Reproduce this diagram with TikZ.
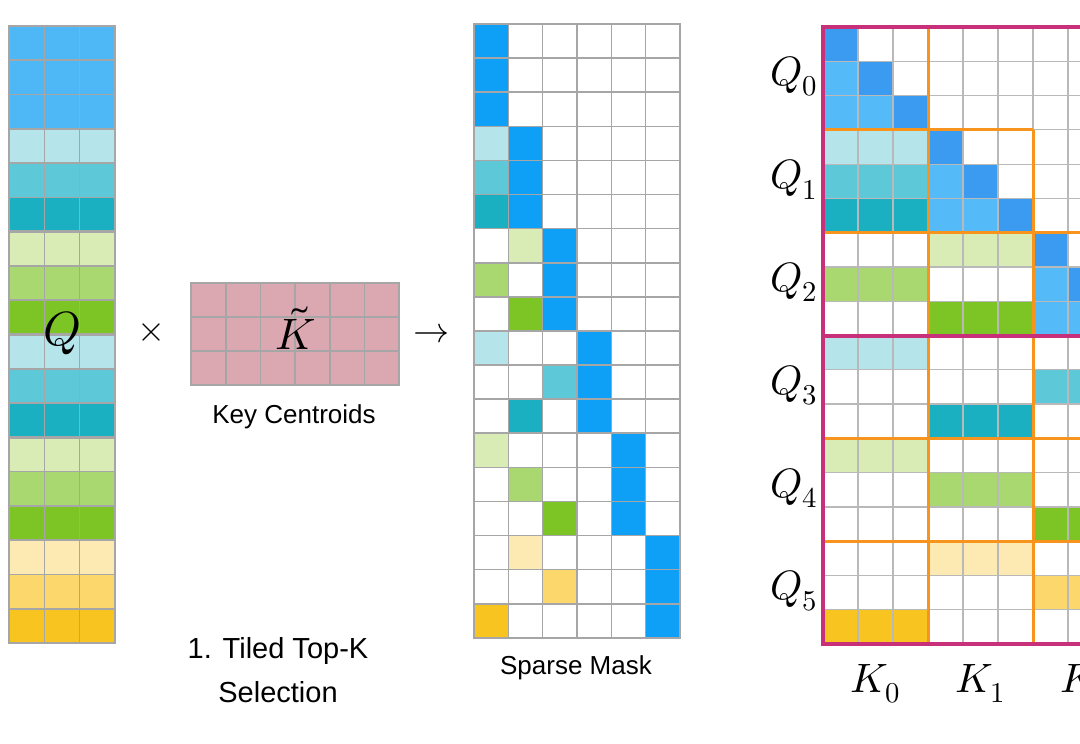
\documentclass[tikz,border=0pt]{standalone}
\usepackage{unicode-math}
\setmathfont{Latin Modern Math}
\setsansfont{Liberation Sans}
\newcommand{\mygrid}[3][]{%
  \foreach \gx in {0,...,#2} \draw[#1] (\gx,0)--(\gx,#3);
  \foreach \gy in {0,...,#3} \draw[#1] (0,\gy)--(#2,\gy);}
\begin{document}
\begin{tikzpicture}[x=1pt,y=-1pt,
  grid/.style={draw=gray!70,line width=1.6pt},
  lgrid/.style={draw=gray!55,line width=1.2pt},
  orl/.style={draw=orange1,line width=3pt},
  mag/.style={draw=magenta1,line width=4pt},
  lab/.style={font=\sffamily\fontsize{26}{30}\selectfont},
  qlab/.style={font=\fontsize{41}{44}\selectfont}]
\definecolor{qb}{HTML}{4DB8F5}
\definecolor{mb}{HTML}{0EA0F6}
\definecolor{db}{HTML}{3A9BF0}
\definecolor{lb}{HTML}{55BBF8}
\definecolor{cA}{HTML}{B5E4EA}
\definecolor{cB}{HTML}{5CC8D8}
\definecolor{cC}{HTML}{1AB0C2}
\definecolor{gA}{HTML}{D9ECB6}
\definecolor{gB}{HTML}{A9D870}
\definecolor{gC}{HTML}{7DC425}
\definecolor{yA}{HTML}{FDEAB3}
\definecolor{yB}{HTML}{FCD86C}
\definecolor{yC}{HTML}{F8C420}
\definecolor{kp}{HTML}{DBA8B2}
\definecolor{orange1}{HTML}{F7941D}
\definecolor{magenta1}{HTML}{C8307A}
\useasboundingbox[fill=white] (0,0) rectangle (1080,744);
\clip (0,0) rectangle (1080,744);
% ---------- Q column
\begin{scope}[shift={(9,26)},x=35.3pt,y=-34.28pt]
\foreach \r/\c in {0/qb,1/qb,2/qb,3/cA,4/cB,5/cC,6/gA,7/gB,8/gC,9/cA,10/cB,11/cC,12/gA,13/gB,14/gC,15/yA,16/yB,17/yC}
  \foreach \j in {0,1,2} \fill[\c] (\j,\r) rectangle ++(1,1);
\mygrid[grid]{3}{18}
\draw[draw=gray!70,line width=2.5pt] (0,0) rectangle (3,18);
\foreach \k in {3,6,...,15} \draw[draw=gray!70,line width=2.5pt] (0,\k)--(3,\k);
\end{scope}
\node[font=\fontsize{48}{50}\selectfont] (Q) at (62,333) {$Q$};
\node[font=\fontsize{36}{38}\selectfont] (times) at (152,333) {$\times$};
% ---------- key centroids
\begin{scope}[shift={(191,283)},x=34.7pt,y=-34pt]
\fill[kp] (0,0) rectangle (6,3);
\mygrid[grid]{6}{3}
\draw[draw=gray!70,line width=2.5pt] (0,0) rectangle (6,3);
\end{scope}
\node[font=\fontsize{44}{46}\selectfont] (Kt) at (296,328) {$\tilde{K}$};
\node[lab] (kc) at (294,417) {Key Centroids};
\node[font=\fontsize{36}{38}\selectfont] (arr) at (431,333) {$\rightarrow$};
\node[font=\sffamily\fontsize{29}{44}\selectfont,align=center] (sel) at (278,670) {1. Tiled Top-K\\Selection};
% ---------- sparse mask
\begin{scope}[shift={(474,24)},x=34.33pt,y=-34.1pt]
\foreach \r in {0,...,17}{\pgfmathtruncatemacro{\b}{int(\r/3)}\fill[mb] (\b,\r) rectangle ++(1,1);}
\foreach \r/\m/\c in {3/0/cA,4/0/cB,5/0/cC,6/1/gA,7/0/gB,8/1/gC,9/0/cA,10/2/cB,11/1/cC,12/0/gA,13/1/gB,14/2/gC,15/1/yA,16/2/yB,17/0/yC}
  \fill[\c] (\m,\r) rectangle ++(1,1);
\mygrid[grid]{6}{18}
\draw[draw=gray!70,line width=2.2pt] (0,0) rectangle (6,18);
\end{scope}
\node[lab] (sm) at (576,668) {Sparse Mask};
% ---------- attention matrix
\begin{scope}[shift={(823,27)},x=35pt,y=-34.28pt]
\foreach \b in {0,1,2}
  \foreach \i in {0,1,2}
    \foreach \j in {0,1,2}{
      \pgfmathtruncatemacro{\rr}{3*\b+\i}\pgfmathtruncatemacro{\cc}{3*\b+\j}
      \ifnum\j<\i \fill[lb] (\cc,\rr) rectangle ++(1,1);\fi
      \ifnum\j=\i \fill[db] (\cc,\rr) rectangle ++(1,1);\fi}
\foreach \r/\m/\c in {3/0/cA,4/0/cB,5/0/cC,6/1/gA,7/0/gB,8/1/gC,9/0/cA,10/2/cB,11/1/cC,12/0/gA,13/1/gB,14/2/gC,15/1/yA,16/2/yB,17/0/yC}
  \foreach \j in {0,1,2}{\pgfmathtruncatemacro{\cc}{3*\m+\j}\fill[\c] (\cc,\r) rectangle ++(1,1);}
\mygrid[lgrid]{10}{18}
\draw[orl] (3,0)--(3,18) (0,3)--(6,3) (6,3)--(6,18) (0,6)--(10,6) (0,12)--(10,12) (0,15)--(10,15);
\draw[mag] (0,0) rectangle (10,9) (0,9) rectangle (10,18);
\foreach \i in {0,...,5}{\pgfmathsetmacro{\y}{3*\i+1.45}\node[qlab,anchor=east] (q\i) at (-0.05,\y) {$Q_{\i}$};}
\foreach \i in {0,1,2}{\pgfmathsetmacro{\x}{3*\i+1.5}\node[qlab] (k\i) at (\x,19.15) {$K_{\i}$};}
\end{scope}
\end{tikzpicture}
\end{document}
